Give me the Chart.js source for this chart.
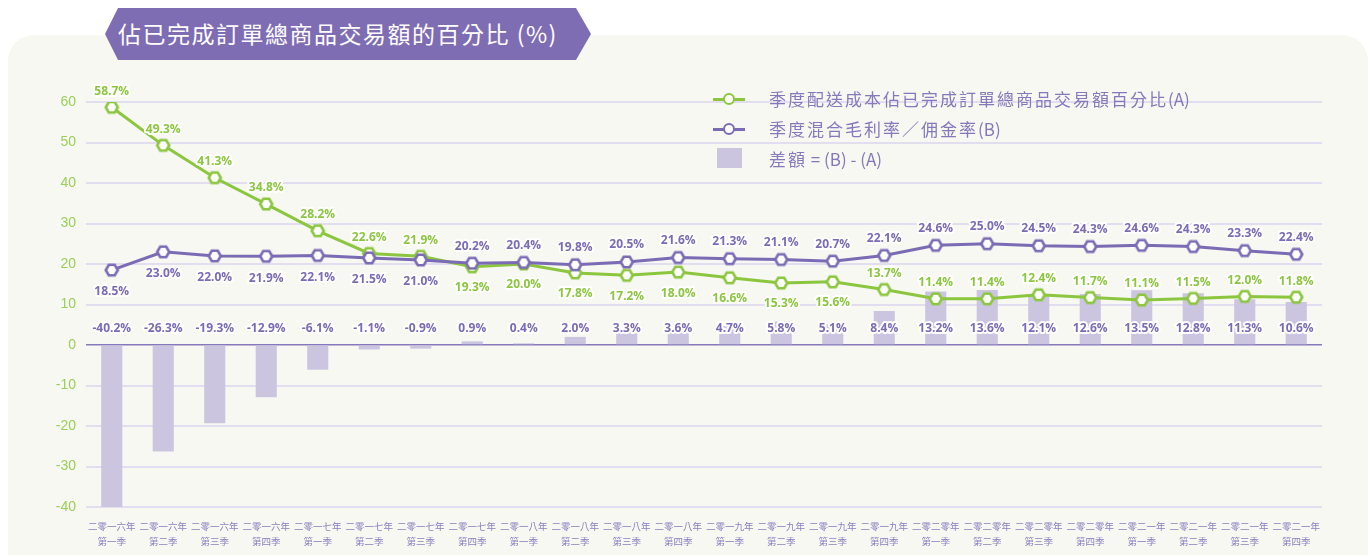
<!DOCTYPE html>
<html>
<head>
<meta charset="utf-8">
<script src="https://cdn.jsdelivr.net/npm/chart.js@4"></script>
<style>
  html, body { margin: 0; padding: 0; background: #ffffff; }
  body { width: 1371px; height: 555px; position: relative; overflow: hidden; font-family: "Noto Sans CJK TC", sans-serif; }
  .panel { position: absolute; left: 8px; top: 35px; width: 1360px; height: 545px; background: #f6f8f1; border-radius: 26px; }
  .banner { position: absolute; left: 105px; top: 8px; width: 486px; height: 52px; background: #7f6db4;
    clip-path: polygon(13px 0, 471px 0, 486px 50%, 471px 100%, 13px 100%, 0 50%); }
  .banner span { position: absolute; left: 13px; top: 0; line-height: 51px; color: #fff; font-size: 23px; letter-spacing: 1.5px; }
  #wrap { position: absolute; left: 0; top: 0; width: 1371px; height: 555px; }
  .legend { position: absolute; left: 713px; top: 86px; color: #8678bb; font-size: 17px; }
  .legend .row { position: relative; height: 30px; line-height: 26px; padding-left: 56px; white-space: nowrap; }
  .legend .cjk { letter-spacing: 2px; }
  .legend .ln { position: absolute; left: 0; top: 12px; width: 32px; height: 3px; }
  .legend .dot { position: absolute; left: 10px; top: -5px; width: 8px; height: 8px; border-radius: 50%; background: #fff; border: 2.5px solid; }
  .legend .sq { position: absolute; left: 4px; top: 2px; width: 25px; height: 20px; background: #cbc5e0; }
</style>
</head>
<body>
<div class="panel"></div>
<div id="wrap"><canvas id="chart" width="1371" height="555"></canvas></div>
<div class="banner"><span>佔已完成訂單總商品交易額的百分比 (%)</span></div>
<div class="legend">
  <div class="row"><div class="ln" style="background:#8cc63f"><div class="dot" style="border-color:#8cc63f"></div></div><span class="cjk">季度配送成本佔已完成訂單總商品交易額百分比</span>(A)</div>
  <div class="row"><div class="ln" style="background:#7b6bb5"><div class="dot" style="border-color:#7b6bb5"></div></div><span class="cjk">季度混合毛利率／佣金率</span>(B)</div>
  <div class="row"><div class="sq"></div><span class="cjk">差額</span> = (B) - (A)</div>
</div>
<script>
const quarters = [
  ["二零一六年", "第一季"], ["二零一六年", "第二季"], ["二零一六年", "第三季"], ["二零一六年", "第四季"],
  ["二零一七年", "第一季"], ["二零一七年", "第二季"], ["二零一七年", "第三季"], ["二零一七年", "第四季"],
  ["二零一八年", "第一季"], ["二零一八年", "第二季"], ["二零一八年", "第三季"], ["二零一八年", "第四季"],
  ["二零一九年", "第一季"], ["二零一九年", "第二季"], ["二零一九年", "第三季"], ["二零一九年", "第四季"],
  ["二零二零年", "第一季"], ["二零二零年", "第二季"], ["二零二零年", "第三季"], ["二零二零年", "第四季"],
  ["二零二一年", "第一季"], ["二零二一年", "第二季"], ["二零二一年", "第三季"], ["二零二一年", "第四季"],
];
const deliveryCost = [58.7, 49.3, 41.3, 34.8, 28.2, 22.6, 21.9, 19.3, 20.0, 17.8, 17.2, 18.0,
  16.6, 15.3, 15.6, 13.7, 11.4, 11.4, 12.4, 11.7, 11.1, 11.5, 12.0, 11.8];
const marginRate = [18.5, 23.0, 22.0, 21.9, 22.1, 21.5, 21.0, 20.2, 20.4, 19.8, 20.5, 21.6,
  21.3, 21.1, 20.7, 22.1, 24.6, 25.0, 24.5, 24.3, 24.6, 24.3, 23.3, 22.4];
const difference = [-40.2, -26.3, -19.3, -12.9, -6.1, -1.1, -0.9, 0.9, 0.4, 2.0, 3.3, 3.6,
  4.7, 5.8, 5.1, 8.4, 13.2, 13.6, 12.1, 12.6, 13.5, 12.8, 11.3, 10.6];
const yTicks = [-40, -30, -20, -10, 0, 10, 20, 30, 40, 50, 60];

const GREEN = "#8cc63f";
const PURPLE = "#7b6bb5";
const BAR = "#cbc5e0";

// label above (-1) or below (+1) the point
const greenSide = deliveryCost.map((v, i) => (i >= 7 && i <= 14 ? 1 : -1));
const purpleSide = marginRate.map((v, i) => (i <= 6 ? 1 : -1));

function hexMarker(color) {
  const c = document.createElement("canvas");
  c.width = 16; c.height = 16;
  const g = c.getContext("2d");
  g.beginPath();
  for (let k = 0; k < 6; k++) {
    const a = Math.PI / 3 * k;
    const x = 8 + 6 * Math.cos(a), y = 8 + 6 * Math.sin(a);
    k ? g.lineTo(x, y) : g.moveTo(x, y);
  }
  g.closePath();
  g.fillStyle = "#fff";
  g.fill();
  g.lineWidth = 2.6;
  g.strokeStyle = color;
  g.stroke();
  return c;
}

const valueLabels = {
  id: "valueLabels",
  afterDatasetsDraw(chart) {
    const ctx = chart.ctx;
    const zeroY = chart.scales.y.getPixelForValue(0);
    ctx.save();
    ctx.font = "bold 12px 'Open Sans', sans-serif";
    ctx.textAlign = "center";
    ctx.textBaseline = "middle";
    ctx.lineJoin = "round";
    ctx.lineWidth = 4;
    ctx.strokeStyle = "#ffffff";
    const put = (txt, x, y, color) => {
      ctx.strokeText(txt, x, y);
      ctx.fillStyle = color;
      ctx.fillText(txt, x, y);
    };
    chart.getDatasetMeta(0).data.forEach((el, i) => {
      put(difference[i].toFixed(1) + "%", el.x, zeroY - 16, PURPLE);
    });
    chart.getDatasetMeta(2).data.forEach((el, i) => {
      put(marginRate[i].toFixed(1) + "%", el.x, el.y + (purpleSide[i] > 0 ? 22 : -17), PURPLE);
    });
    chart.getDatasetMeta(1).data.forEach((el, i) => {
      put(deliveryCost[i].toFixed(1) + "%", el.x, el.y + (greenSide[i] > 0 ? 21 : -16), GREEN);
    });
    ctx.restore();
  },
};

new Chart(document.getElementById("chart"), {
  data: {
    labels: quarters,
    datasets: [
      {
        type: "bar",
        data: difference,
        backgroundColor: BAR,
        barPercentage: 0.82,
        categoryPercentage: 0.5,
        order: 3,
      },
      {
        type: "line",
        data: deliveryCost,
        borderColor: GREEN,
        borderWidth: 3,
        pointStyle: hexMarker(GREEN),
        tension: 0,
        order: 2,
      },
      {
        type: "line",
        data: marginRate,
        borderColor: PURPLE,
        borderWidth: 3,
        pointStyle: hexMarker(PURPLE),
        tension: 0,
        order: 1,
      },
    ],
  },
  options: {
    responsive: false,
    animation: false,
    layout: { padding: { top: 102, right: 49, bottom: 0, left: 0 } },
    plugins: { legend: { display: false }, tooltip: { enabled: false } },
    scales: {
      x: {
        grid: { display: false },
        border: { display: false },
        ticks: {
          color: "#8a7fbf",
          font: { family: "'Noto Sans CJK TC'", size: 9.5, lineHeight: 1.55 },
          padding: 4,
          maxRotation: 0,
          autoSkip: false,
        },
        afterFit(scale) { scale.height = 48; },
      },
      y: {
        min: -40,
        max: 60,
        afterBuildTicks(scale) { scale.ticks = yTicks.map((v) => ({ value: v })); },
        grid: {
          color: (c) => (c.tick && c.tick.value === 0 ? "#8678bb" : "#e2def0"),
          lineWidth: (c) => (c.tick && c.tick.value === 0 ? 1.5 : 2),
          drawTicks: false,
        },
        border: { display: false },
        ticks: {
          color: "#9ccf5a",
          font: { family: "'Liberation Sans'", size: 14 },
          padding: 10,
        },
        afterFit(scale) { scale.width = 86; },
      },
    },
  },
  plugins: [valueLabels],
});
</script>
</body>
</html>
